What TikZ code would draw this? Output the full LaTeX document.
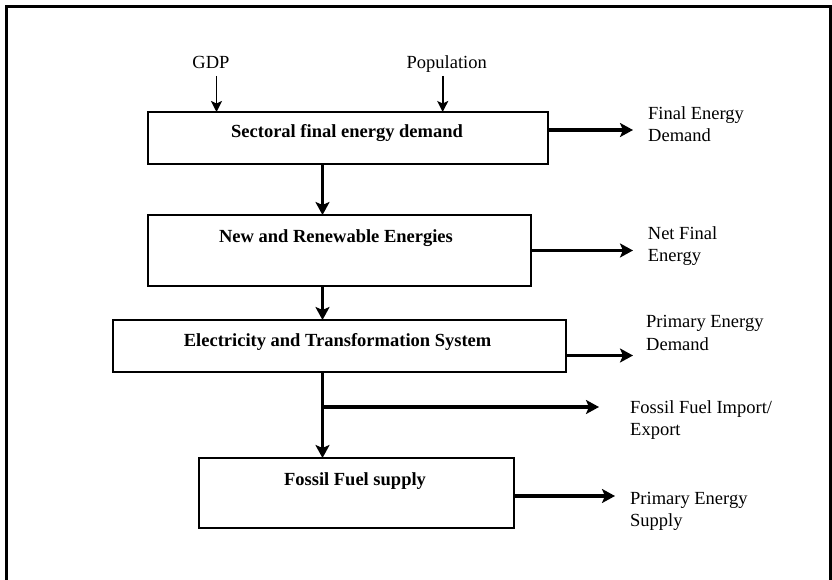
\documentclass[tikz,border=0pt]{standalone}
\usepackage{fontspec}
\setmainfont{Liberation Serif}
\usetikzlibrary{arrows.meta}
\begin{document}
\begin{tikzpicture}[x=1pt,y=-1pt,
  box/.style={draw, line width=1.2pt, rectangle, inner sep=0pt, outer sep=0pt},
  boxtxt/.style={font=\fontsize{18.5}{22}\selectfont\bfseries, anchor=base, inner sep=0pt},
  lbl/.style={font=\fontsize{18.5}{22.5}\selectfont, anchor=base west, inner sep=0pt},
  inlbl/.style={font=\fontsize{18.5}{22}\selectfont, anchor=base, inner sep=0pt},
  flow/.style={line width=3.4pt, -{Stealth[length=13pt,width=14pt,inset=3pt]}},
  feed/.style={line width=1.8pt, -{Stealth[length=11pt,width=11pt,inset=2.5pt]}},
  shade/.style={line width=2.4pt},
]
\useasboundingbox (0,0) rectangle (832,580);
% outer frame
\draw[line width=3pt] (6.5,590) -- (6.5,6.5) -- (830.5,6.5) -- (830.5,590);

\coordinate (spine) at (322.5,0);

% boxes
\node[box, minimum width=400pt, minimum height=52pt] (b1) at (348,138) {};
\node[box, minimum width=383pt, minimum height=71pt] (b2) at (339.5,250.5) {};
\node[box, minimum width=453pt, minimum height=52pt] (b3) at (339.5,346) {};
\node[box, minimum width=315pt, minimum height=70pt] (b4) at (356.5,493) {};
\foreach \b in {b1,b2,b3,b4}
  \draw[shade] (\b.south west) -- (\b.south east) -- (\b.north east);

% box texts
\node[boxtxt] (t1) at (347,138) {Sectoral final energy demand};
\node[boxtxt] (t2) at (336,242) {New and Renewable Energies};
\node[boxtxt] (t3) at (337.6,346) {Electricity and Transformation System};
\node[boxtxt] (t4) at (355,485) {Fossil Fuel supply};

% inputs
\node[inlbl] (gdp) at (211,68.3) {GDP};
\node[inlbl] (pop) at (446.7,68.3) {Population};
\coordinate (gdpS) at (216.5,76);
\coordinate (popS) at (442.7,76);
\draw[feed] (gdpS) -- (gdpS |- b1.north);
\draw[feed] (popS) -- (popS |- b1.north);

% main flow
\draw[flow] (b1.south -| spine) -- (b2.north -| spine);
\draw[flow] (b2.south -| spine) -- (b3.north -| spine);
\draw[flow] (b3.south -| spine) -- (b4.north -| spine);
\coordinate (br) at (322.5,407);
\coordinate (brE) at (599,407);
\draw[flow] (br) -- (brE);

% outputs
\coordinate (e1) at (633,130);
\coordinate (e2) at (633,250.5);
\coordinate (e3) at (633,355.5);
\coordinate (e4) at (615,496);
\draw[flow] (b1.east |- e1) -- (e1);
\draw[flow] (b2.east |- e2) -- (e2);
\draw[flow] (b3.east |- e3) -- (e3);
\draw[flow] (b4.east |- e4) -- (e4);

\node[lbl] (l1) at (648,119.3) {\parbox[t]{180pt}{\raggedright Final Energy\\Demand}};
\node[lbl] (l2) at (647.7,239.3) {\parbox[t]{180pt}{\raggedright Net Final\\Energy}};
\node[lbl] (l3) at (646,327.5) {\parbox[t]{180pt}{\raggedright Primary Energy\\Demand}};
\node[lbl] (l4) at (630,413.3) {\parbox[t]{190pt}{\raggedright Fossil Fuel Import/\\Export}};
\node[lbl] (l5) at (630,504.3) {\parbox[t]{190pt}{\raggedright Primary Energy\\Supply}};
\end{tikzpicture}
\end{document}
